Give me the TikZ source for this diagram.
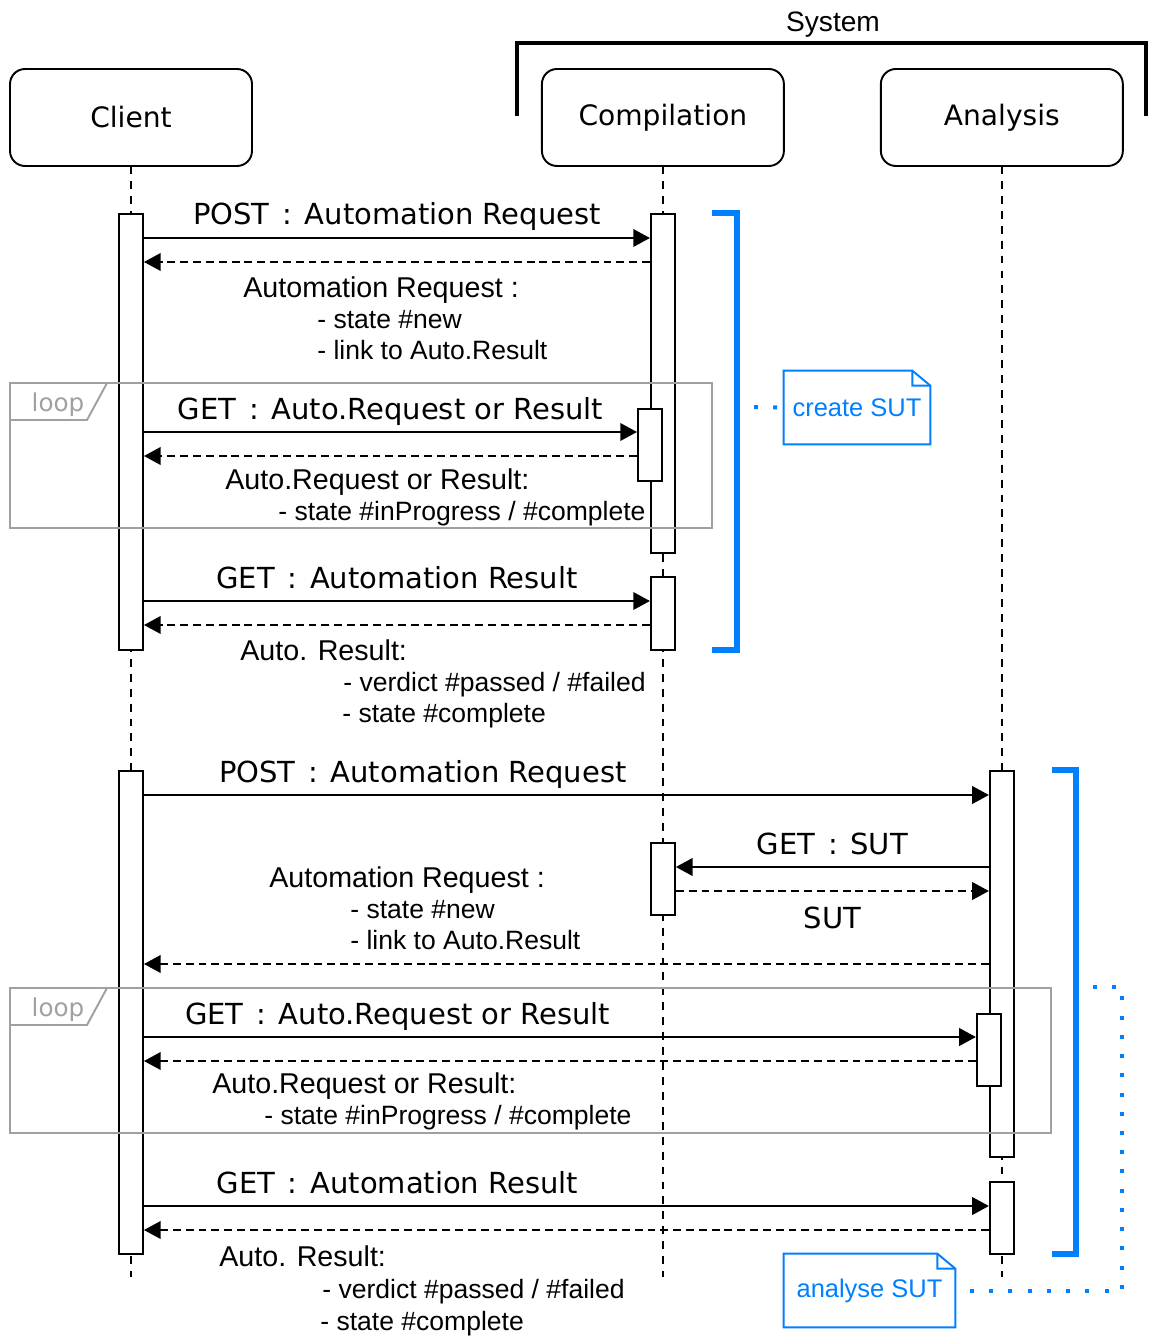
\documentclass[tikz,border=0pt]{standalone}
\usepackage{fontspec}
\setmainfont{Liberation Sans}
\newfontfamily\dejavu{DejaVu Sans}
\usepackage{tikz}
\usetikzlibrary{arrows.meta,positioning}
\definecolor{sysblue}{RGB}{0,127,255}
\definecolor{framegray}{RGB}{160,160,160}
\newcommand{\sep}{\ \hspace{2pt}:\ \hspace{2pt}}% wide colon in message names

\begin{document}
\begin{tikzpicture}[
    x=0.02cm, y=-0.02cm,% one unit = one pixel, y going down
    node distance=5mm,
    actor/.style={
        % participant boxes
        rectangle,
        draw,
        line width=1.1pt,
        outer sep=0pt,
        rounded corners=0.3cm,
        minimum width=4.84cm,
        minimum height=1.94cm,
        font=\dejavu\fontsize{16}{19}\selectfont},
    act/.style={rectangle, draw, fill=white, line width=1.1pt, minimum width=0.48cm, inner sep=0},
    lifeline/.style={line width=1.1pt, dash pattern=on 4.5pt off 4pt},
    msg/.style={line width=1.1pt, -{Triangle[length=9.5pt,width=10pt]}},
    ret/.style={msg, dash pattern=on 4.5pt off 2.8pt},
    lbl/.style={font=\dejavu\fontsize{16.5}{19}\selectfont, anchor=base, inner sep=0, yshift=0.26cm},
    rhead/.style={font=\fontsize{16.3}{19}\selectfont, anchor=base west, inner sep=0},
    ritem/.style={font=\fontsize{15.1}{18}\selectfont, anchor=base west, inner sep=0},
    loopframe/.style={draw=framegray, line width=1.1pt},
    looptag/.style={text=framegray, font=\dejavu\fontsize{14}{17}\selectfont, inner sep=0},
    spanbar/.style={draw=sysblue, line width=3.4pt},
    notelink/.style={draw=sysblue, line width=2.27pt, dash pattern=on 2.27pt off 8.67pt},
    notebox/.style={text=sysblue, font=\fontsize{14.5}{17}\selectfont, minimum height=1.46cm, inner sep=0}]
  \useasboundingbox (0,0) rectangle (1149,1337);

  % participants
  \node (client) [actor] at (131,117.5) {Client};
  \node (comp) [actor, right=5.8cm of client] {Compilation};
  \node (ana) [actor, right=1.94cm of comp] {Analysis};
  \node (system) [font=\fontsize{16}{19}\selectfont] at (833,25) {System};
  \draw[line width=2.27pt] (517,116) |- (1146,43) -- (1146,116);

  \foreach \who in {client,comp,ana}
    \draw[lifeline] (\who.south) -- (\who.south |- 0,1277);

  % activations
  \node (c1) [act, minimum height=8.72cm] at (client |- 0,432) {};
  \node (p1) [act, minimum height=6.78cm] at (comp |- 0,383.5) {};
  \node (p2) [act, minimum height=1.44cm, anchor=north east] at (p1.center |- 0,408) {};
  \node (p3) [act, minimum height=1.46cm] at (comp |- 0,613.5) {};
  \node (c2) [act, minimum height=9.66cm] at (client |- 0,1012.5) {};
  \node (a1) [act, minimum height=7.72cm] at (ana |- 0,964) {};
  \node (p4) [act, minimum height=1.44cm] at (comp |- 0,879) {};
  \node (a2) [act, minimum height=1.44cm, anchor=north east] at (a1.center |- 0,1013) {};
  \node (a3) [act, minimum height=1.44cm] at (ana |- 0,1218) {};

  % create SUT
  \draw[msg] (c1.east |- 0,238) -- node[lbl] {POST\sep Automation Request} (p1.west |- 0,238);
  \draw[ret] (p1.west |- 0,262) -- (c1.east |- 0,262);
  \node (r1a) [rhead] at (243,298) {Automation Request :};
  \node (r1b) [ritem] at (317,329) {- state \#new};
  \node (r1c) [ritem] at (317,360) {- link to Auto.Result};

  \draw[loopframe] (10,383) rectangle (712,528);
  \draw[loopframe] (10,420) -- (87,420) -- (107,383);
  \node (loop1) [looptag] at (58,405) {loop};
  \draw[msg] (c1.east |- 0,432) -- node[lbl] {GET\sep Auto.Request or Result} (p2.west |- 0,432);
  \draw[ret] (p2.west |- 0,456) -- (c1.east |- 0,456);
  \node (r2a) [rhead] at (225,489) {Auto.Request or Result:};
  \node (r2b) [ritem] at (278,520) {- state \#inProgress / \#complete};

  \draw[msg] (c1.east |- 0,601) -- node[lbl] {GET\sep Automation Result} (p3.west |- 0,601);
  \draw[ret] (p3.west |- 0,625) -- (c1.east |- 0,625);
  \node (r3a) [rhead] at (240,660) {Auto. Result:};
  \node (r3b) [ritem] at (343,691) {- verdict \#passed / \#failed};
  \node (r3c) [ritem] at (342,722) {- state \#complete};

  % analyse SUT
  \draw[msg] (c2.east |- 0,795) -- node[lbl, pos=0.33] {POST\sep Automation Request} (a1.west |- 0,795);
  \draw[msg] (a1.west |- 0,867) -- node[lbl] {GET\sep SUT} (p4.east |- 0,867);
  \draw[ret] (p4.east |- 0,891) -- node[lbl, yshift=-1cm] {SUT} (a1.west |- 0,891);
  \node (r4a) [rhead] at (269,887) {Automation Request :};
  \node (r4b) [ritem] at (350,918) {- state \#new};
  \node (r4c) [ritem] at (350,949) {- link to Auto.Result};
  \draw[ret] (a1.west |- 0,964) -- (c2.east |- 0,964);

  \draw[loopframe] (10,988) rectangle (1051,1133);
  \draw[loopframe] (10,1025) -- (87,1025) -- (107,988);
  \node (loop2) [looptag] at (58,1010) {loop};
  \draw[msg] (c2.east |- 0,1037) -- node[lbl, pos=0.305] {GET\sep Auto.Request or Result} (a2.west |- 0,1037);
  \draw[ret] (a2.west |- 0,1061) -- (c2.east |- 0,1061);
  \node (r5a) [rhead] at (212,1093) {Auto.Request or Result:};
  \node (r5b) [ritem] at (264,1124) {- state \#inProgress / \#complete};

  \draw[msg] (c2.east |- 0,1206) -- node[lbl, pos=0.3] {GET\sep Automation Result} (a3.west |- 0,1206);
  \draw[ret] (a3.west |- 0,1230) -- (c2.east |- 0,1230);
  \node (r6a) [rhead] at (219,1266) {Auto. Result:};
  \node (r6b) [ritem] at (322,1298) {- verdict \#passed / \#failed};
  \node (r6c) [ritem] at (320,1330) {- state \#complete};

  % blue spans and notes
  \draw[spanbar] (712,213) -| (737,650) -- (712,650);
  \draw[spanbar] (1052,770) -| (1076,1254) -- (1052,1254);
  \node (note1) [notebox, minimum width=2.92cm] at (857,407.5) {create SUT};
  \node (note2) [notebox, minimum width=3.42cm] at (869.5,1290.5) {analyse SUT};
  \foreach \n in {note1,note2} {
    \draw[sysblue, line width=1.1pt] (\n.south west) -- (\n.north west) -- ([xshift=-0.36cm]\n.north east)
      -- ([yshift=-0.3cm]\n.north east) -- (\n.south east) -- cycle;
    \draw[sysblue, line width=1.1pt] ([xshift=-0.36cm]\n.north east) -- ++(0,15) -- ([yshift=-0.3cm]\n.north east);
  }
  \coordinate (s1) at (754,407);
  \coordinate (s2) at (1093,987);
  \draw[notelink] (s1) -- (note1.west);
  \draw[notelink] (s2) -| (note2.east -| 1122,0) -- (note2.east);
\end{tikzpicture}
\end{document}
